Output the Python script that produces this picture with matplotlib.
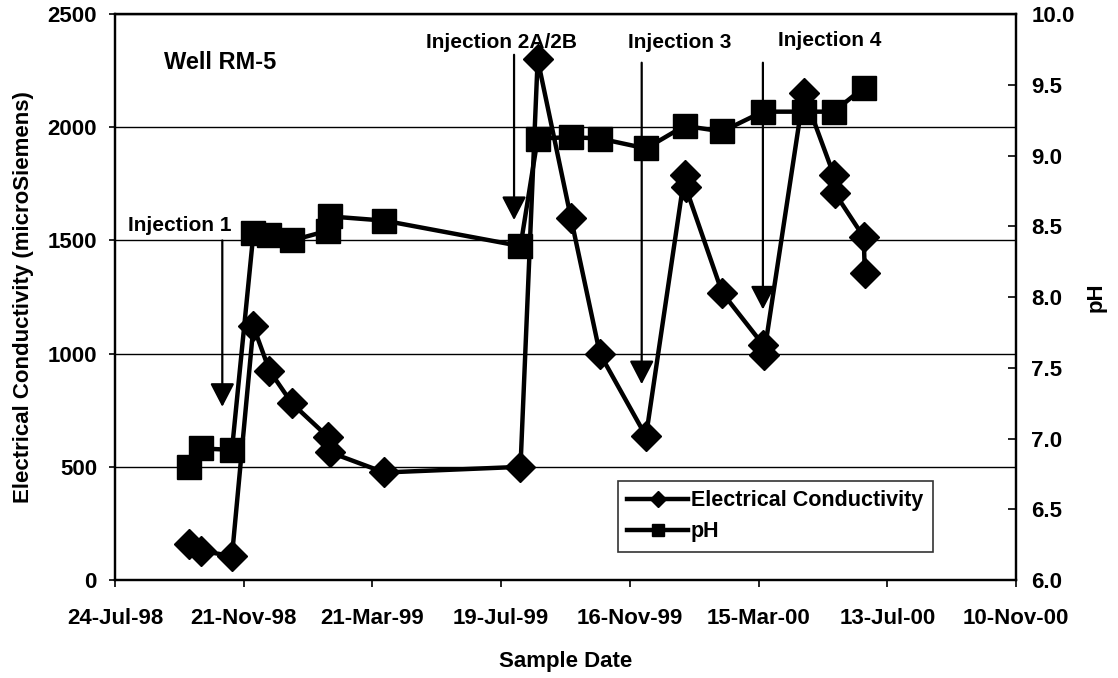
import numpy as np
import pandas as pd
import matplotlib
matplotlib.use('Agg')
import matplotlib.pyplot as plt
import matplotlib.dates as mdates

plt.rcParams['font.family'] = ['Liberation Sans', 'DejaVu Sans']
plt.rcParams['font.weight'] = 'bold'

# sample dates and values
ec_dates = ['1998-10-01', '1998-10-12', '1998-11-10', '1998-11-30', '1998-12-15',
            '1999-01-05', '1999-02-08', '1999-02-09', '1999-04-01', '1999-08-06',
            '1999-08-22', '1999-09-22', '1999-10-19', '1999-12-01', '2000-01-06',
            '2000-01-07', '2000-02-10', '2000-03-19', '2000-03-20', '2000-04-26',
            '2000-05-24', '2000-05-25', '2000-06-21', '2000-06-22']
ec_values = [160, 130, 105, 1120, 925, 780, 630, 565, 475, 500,
             2300, 1600, 1000, 635, 1790, 1735, 1270, 1040, 995, 2150,
             1790, 1710, 1515, 1355]

ph_dates = ['1998-10-01', '1998-10-12', '1998-11-10', '1998-11-30', '1998-12-15',
            '1999-01-05', '1999-02-08', '1999-02-09', '1999-04-01', '1999-08-06',
            '1999-08-22', '1999-09-22', '1999-10-19', '1999-12-01', '2000-01-06',
            '2000-02-10', '2000-03-19', '2000-04-26', '2000-05-24', '2000-06-21']
ph_values = [6.80, 6.93, 6.92, 8.45, 8.44, 8.40, 8.47, 8.57, 8.54, 8.36,
             9.12, 9.13, 9.12, 9.05, 9.21, 9.17, 9.31, 9.31, 9.31, 9.48]

tick_dates = ['1998-07-24', '1998-11-21', '1999-03-21', '1999-07-19',
              '1999-11-16', '2000-03-15', '2000-07-13', '2000-11-10']

# injections: label, label x (date), line date, line top, arrow tip (EC units)
inj_labels = ['Injection 1', 'Injection 2A/2B', 'Injection 3', 'Injection 4']
inj_text_x = ['1998-08-05', '1999-05-10', '1999-11-14', '2000-04-02']
inj_text_y = [1565, 2376, 2376, 2385]
inj_line_x = ['1998-11-01', '1999-07-31', '1999-11-27', '2000-03-19']
inj_top = [1500, 2320, 2285, 2285]
inj_tip = [765, 1590, 865, 1195]

ec_dates = pd.to_datetime(ec_dates)
ph_dates = pd.to_datetime(ph_dates)
tick_dates = pd.to_datetime(tick_dates)

fig = plt.figure(figsize=(11.18, 6.78), dpi=100)
ax = fig.add_axes([0.1029, 0.1445, 0.8059, 0.8348])
ax2 = ax.twinx()

l1, = ax.plot(ec_dates, ec_values, color='black', lw=3.2, marker='D', markersize=15,
              label='Electrical Conductivity', zorder=3)
l2, = ax2.plot(ph_dates, ph_values, color='black', lw=3.2, marker='s', markersize=17,
               label='pH', zorder=3)

ax.set_xlim(tick_dates[0], tick_dates[-1])
ax.set_ylim(0, 2500)
ax2.set_ylim(6.0, 10.0)
ax.set_yticks(np.arange(0, 2501, 500))
ax2.set_yticks(np.arange(6.0, 10.01, 0.5))
ax2.set_yticklabels(['%.1f' % v for v in np.arange(6.0, 10.01, 0.5)])
ax.set_xticks(tick_dates)
ax.xaxis.set_major_formatter(mdates.DateFormatter('%d-%b-%y'))

ax.grid(axis='y', color='black', lw=1)
ax.set_axisbelow(True)
ax.tick_params(axis='x', labelsize=16, width=1.2, length=5, pad=15)
ax.tick_params(axis='y', labelsize=16, width=1.2, length=4, pad=9)
ax2.tick_params(axis='y', labelsize=16, width=1.2, length=6, direction='in', pad=11)
for a in (ax, ax2):
    for s in a.spines.values():
        s.set_linewidth(1.6)

ax.set_ylabel('Electrical Conductivity (microSiemens)', fontsize=16, fontweight='bold', labelpad=10)
ax2.set_ylabel('pH', fontsize=16, fontweight='bold', labelpad=8)
ax.set_xlabel('Sample Date', fontsize=16, fontweight='bold', labelpad=16)

ax.text(pd.Timestamp('1998-09-08'), 2285, 'Well RM-5', fontsize=17, fontweight='bold',
        va='center', ha='left')

for lab, tx, ty, lx, top, tip in zip(inj_labels, inj_text_x, inj_text_y, inj_line_x, inj_top, inj_tip):
    ax.text(pd.Timestamp(tx), ty, lab, fontsize=15, fontweight='bold', va='center', ha='left', zorder=5)
    ax.annotate('', xy=(pd.Timestamp(lx), tip), xytext=(pd.Timestamp(lx), top),
                arrowprops=dict(arrowstyle='-|>,head_length=1.45,head_width=0.75',
                                color='black', lw=1.6, shrinkA=0, shrinkB=0), zorder=5)

leg = ax2.legend([l1, l2], ['Electrical Conductivity', 'pH'], loc='lower left',
                 bbox_to_anchor=(0.558, 0.05), fontsize=15.5, frameon=True, fancybox=False,
                 edgecolor='black', handlelength=2.8, handletextpad=0.15, borderpad=0.45,
                 labelspacing=0.45, borderaxespad=0, markerscale=0.55)
leg.get_frame().set_linewidth(1.2)

fig.savefig('out.png', dpi=100)
